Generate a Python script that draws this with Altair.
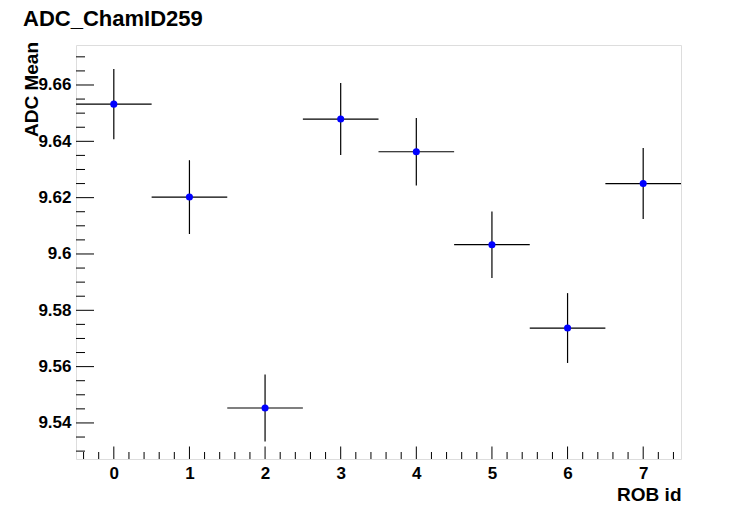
import altair as alt
import pandas as pd

# ---- data ----
rob_id = [0, 1, 2, 3, 4, 5, 6, 7]
adc_mean = [9.6532, 9.6202, 9.5453, 9.6479, 9.6363, 9.6033, 9.5737, 9.6250]
adc_err = [0.0125, 0.0131, 0.0119, 0.0128, 0.0120, 0.0118, 0.0124, 0.0126]
x_half_width = 0.5

x_major = [0, 1, 2, 3, 4, 5, 6, 7]
x_minor = [-0.4, -0.2, 0.2, 0.4, 0.6, 0.8, 1.2, 1.4, 1.6, 1.8, 2.2, 2.4, 2.6, 2.8,
           3.2, 3.4, 3.6, 3.8, 4.2, 4.4, 4.6, 4.8, 5.2, 5.4, 5.6, 5.8,
           6.2, 6.4, 6.6, 6.8, 7.2, 7.4]
y_major = [9.54, 9.56, 9.58, 9.60, 9.62, 9.64, 9.66]
y_minor = [9.530, 9.535, 9.545, 9.550, 9.555, 9.565, 9.570, 9.575, 9.585, 9.590, 9.595,
           9.605, 9.610, 9.615, 9.625, 9.630, 9.635, 9.645, 9.650, 9.655, 9.665, 9.670]

x_domain = [-0.5, 7.5]
y_domain = [9.5272, 9.6742]

W, H = 605, 414
FONT = "Liberation Sans"

df = pd.DataFrame({
    "rob": rob_id,
    "mean": adc_mean,
    "lo": [m - e for m, e in zip(adc_mean, adc_err)],
    "hi": [m + e for m, e in zip(adc_mean, adc_err)],
    "xl": [r - x_half_width for r in rob_id],
    "xr": [r + x_half_width for r in rob_id],
})

xs = alt.Scale(domain=x_domain, nice=False, zero=False)
ys = alt.Scale(domain=y_domain, nice=False, zero=False)

x_axis = alt.Axis(values=x_major, ticks=False, tickSize=0, grid=False, domain=False,
                  format="d",
                  labelFont=FONT, labelFontWeight="bold", labelFontSize=17, labelColor="black",
                  labelPadding=6, labelFlush=False,
                  title="ROB id", titleFont=FONT, titleFontWeight="bold", titleFontSize=19,
                  titleColor="black", titleX=W, titleY=41, titleAlign="right",
                  titleBaseline="alphabetic")
y_axis = alt.Axis(values=y_major, ticks=False, tickSize=0, grid=False, domain=False,
                  format=".2~f",
                  labelFont=FONT, labelFontWeight="bold", labelFontSize=17, labelColor="black",
                  labelPadding=5, labelFlush=False,
                  title="ADC Mean", titleFont=FONT, titleFontWeight="bold", titleFontSize=19,
                  titleColor="black", titleAngle=270, titleX=-39, titleY=-3.5,
                  titleAlign="right", titleBaseline="alphabetic")

base = alt.Chart(df)

hbar = base.mark_rule(color="black", strokeWidth=1.2).encode(
    x=alt.X("xl:Q", scale=xs, axis=x_axis), x2="xr:Q",
    y=alt.Y("mean:Q", scale=ys, axis=y_axis))
vbar = base.mark_rule(color="black", strokeWidth=1.2).encode(
    x=alt.X("rob:Q", scale=xs), y=alt.Y("lo:Q", scale=ys), y2="hi:Q")
pts = base.mark_point(filled=True, color="#0000ff", size=50, opacity=1, shape="circle").encode(
    x=alt.X("rob:Q", scale=xs), y=alt.Y("mean:Q", scale=ys))

ymaj = alt.Chart(pd.DataFrame({"v": y_major})).mark_rule(color="black").encode(
    y=alt.Y("v:Q", scale=ys), x=alt.value(0), x2=alt.value(18))
ymin = alt.Chart(pd.DataFrame({"v": y_minor})).mark_rule(color="black").encode(
    y=alt.Y("v:Q", scale=ys), x=alt.value(0), x2=alt.value(9))
xmaj = alt.Chart(pd.DataFrame({"v": x_major})).mark_rule(color="black").encode(
    x=alt.X("v:Q", scale=xs), y=alt.value(H), y2=alt.value(H - 12.5))
xmin = alt.Chart(pd.DataFrame({"v": x_minor})).mark_rule(color="black").encode(
    x=alt.X("v:Q", scale=xs), y=alt.value(H), y2=alt.value(H - 7))

chart = alt.layer(hbar, vbar, pts, ymaj, ymin, xmaj, xmin).properties(
    width=W, height=H,
    title=alt.TitleParams("ADC_ChamID259", anchor="start", frame="group", dx=-53, dy=6,
                          font=FONT, fontWeight="bold", fontSize=22, color="black",
                          baseline="alphabetic", offset=0),
    autosize=alt.AutoSizeParams(type="none"),
    padding={"left": 68, "top": 37, "right": 67, "bottom": 48},
).configure_view(stroke="black", strokeWidth=1).configure(background="white")

chart.save("out.html", embed_options={"renderer": "svg", "actions": False})
